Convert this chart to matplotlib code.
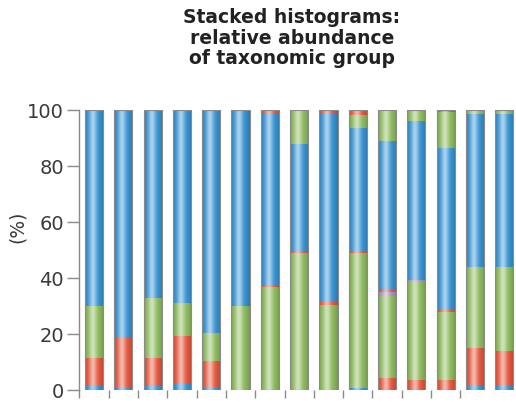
import numpy as np
import matplotlib
matplotlib.use("Agg")
import matplotlib.pyplot as plt
from matplotlib.colors import to_rgb

# ---- data (percent, stacked from bottom to top) ----
samples = list(range(1, 16))
blue_bottom = [1.8, 1.0, 1.8, 2.1, 1.0, 0, 0, 0, 0, 0.8, 0, 0, 0, 1.3, 1.3]
red_bottom = [9.6, 17.6, 9.6, 17.1, 9.5, 0, 0, 0, 0, 0, 4.3, 3.6, 3.6, 13.7, 12.5]
green_mid = [18.5, 0, 21.3, 11.8, 9.8, 29.9, 36.7, 48.9, 30.2, 48.2, 29.4, 35.1, 24.4, 29.0, 30.2]
purple_mid = [0, 0, 0, 0, 0, 0, 0, 0, 0, 0, 1.2, 0.6, 0, 0, 0]
red_mid = [0, 0, 0, 0, 0, 0.5, 0.7, 0.9, 1.5, 0.8, 0.7, 0, 0.6, 0, 0]
blue_main = [70.1, 80.6, 67.3, 69.0, 79.7, 69.6, 61.5, 38.1, 67.3, 43.6, 53.4, 56.9, 57.7, 54.6, 54.6]
green_top = [0, 0, 0, 0, 0, 0, 0, 12.1, 0, 4.8, 11.0, 3.8, 13.1, 1.4, 1.4]
red_top = [0, 0.8, 0, 0, 0, 0, 1.1, 0, 1.0, 1.8, 0, 0, 0.6, 0, 0]

yticks = [0, 20, 40, 60, 80, 100]

BLUE = "#3592d2"
RED = "#e5543a"
GREEN = "#8cba5b"
PURPLE = "#a58ccb"

series = [
    (blue_bottom, BLUE),
    (red_bottom, RED),
    (green_mid, GREEN),
    (purple_mid, PURPLE),
    (red_mid, RED),
    (blue_main, BLUE),
    (green_top, GREEN),
    (red_top, RED),
]


def gradient(color, n=64):
    base = np.array(to_rgb(color))
    x = np.linspace(0, 1, n)
    hl = 0.58 * np.exp(-((x - 0.42) / 0.2) ** 2)
    dark = 0.18 * (np.abs(x - 0.45) / 0.55) ** 3
    rgb = base[None, :] * (1 - hl[:, None]) + hl[:, None]
    rgb = rgb * (1 - dark[:, None])
    return np.clip(rgb, 0, 1)[None, :, :]


fig = plt.figure(figsize=(5.16, 4.06), dpi=100)
ax = fig.add_axes([79.4 / 516, 15 / 406, 439.5 / 516, 280 / 406])

w = 0.62
x = np.arange(len(samples))
bottom = np.zeros(len(samples))
for vals, col in series:
    vals = np.array(vals, dtype=float)
    img = gradient(col)
    for i in x:
        if vals[i] > 0:
            ax.imshow(img, extent=(i - w / 2, i + w / 2, bottom[i], bottom[i] + vals[i]),
                      aspect="auto", interpolation="bilinear", zorder=2, origin="lower")
    bottom += vals

ax.bar(x, bottom, width=w, fill=False, edgecolor="#8a8a8a", linewidth=0.8, zorder=3)

ax.set_xlim(-0.5, len(samples) - 0.5)
ax.set_ylim(0, 100)
ax.set_aspect("auto")

for s in ["top", "right", "bottom"]:
    ax.spines[s].set_visible(False)
ax.spines["left"].set_color("#8a8a8a")
ax.spines["left"].set_linewidth(1.0)

ax.set_yticks(yticks)
ax.set_yticklabels([str(t) for t in yticks])
ax.tick_params(axis="y", length=9, width=1.0, color="#8a8a8a", labelsize=14,
               labelcolor="#3a3a3a", pad=2)
ax.set_xticks(np.arange(len(samples) - 1) - 0.5)
ax.set_xticklabels([])
ax.tick_params(axis="x", length=6, width=1.0, color="#8a8a8a", direction="out")

fig.text(17 / 516, 1 - 227 / 406, "(%)", rotation=90, ha="center", va="center",
         fontsize=13.5, color="#3a3a3a")

fig.text(292 / 516, 1 - 8 / 406,
         "Stacked histograms:\nrelative abundance\nof taxonomic group",
         ha="center", va="top", fontsize=13.5, fontweight="bold", color="#222222",
         linespacing=1.1)

fig.savefig("out.png", dpi=100)
